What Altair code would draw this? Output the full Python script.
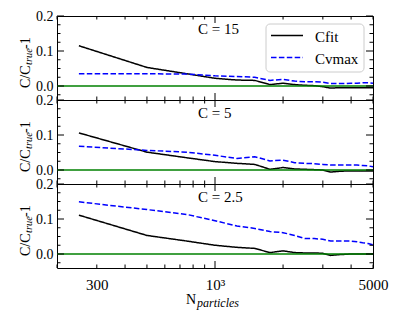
import altair as alt
import pandas as pd

# ---------------- data ----------------
N = [250, 500, 750, 1000, 1250, 1500, 1750, 2000, 2250, 2500,
     2750, 3000, 3250, 3500, 3750, 4000, 4250, 4500, 4750, 5000]

cfit_15 = [0.115, 0.053, 0.035, 0.022, 0.017, 0.016, 0.004, 0.008, 0.004, 0.002,
           0.001, -0.002, -0.006, -0.005, -0.005, -0.005, -0.005, -0.005, -0.005, -0.005]
cvmax_15 = [0.035, 0.035, 0.034, 0.029, 0.027, 0.025, 0.016, 0.019, 0.014, 0.012,
            0.012, 0.011, 0.007, 0.007, 0.007, 0.008, 0.008, 0.009, 0.009, 0.008]

cfit_5 = [0.106, 0.051, 0.035, 0.024, 0.019, 0.016, 0.002, 0.007, 0.003, 0.002,
          0.001, 0.000, -0.006, -0.004, -0.003, -0.003, -0.003, -0.003, -0.003, -0.003]
cvmax_5 = [0.068, 0.056, 0.051, 0.042, 0.033, 0.038, 0.026, 0.028, 0.021, 0.019,
           0.018, 0.016, 0.014, 0.014, 0.014, 0.014, 0.014, 0.013, 0.012, 0.009]

cfit_25 = [0.111, 0.053, 0.037, 0.025, 0.019, 0.016, 0.004, 0.009, 0.004, 0.003,
           0.003, 0.002, -0.004, -0.002, -0.001, 0.000, 0.000, 0.000, 0.000, 0.000]
cvmax_25 = [0.149, 0.127, 0.113, 0.095, 0.080, 0.073, 0.064, 0.061, 0.053, 0.044,
            0.044, 0.042, 0.037, 0.037, 0.037, 0.037, 0.035, 0.032, 0.030, 0.026]

panel_titles = ["C = 15", "C = 5", "C = 2.5"]
series_names = ["Cfit", "Cvmax"]

x_major_ticks = [1000]
x_minor_ticks = [200, 300, 400, 500, 600, 700, 800, 900, 2000, 3000, 4000, 5000]
x_tick_labels = [300, 1000, 5000]
y_major_ticks = [0.0, 0.1, 0.2]
y_minor_ticks = [-0.025, 0.025, 0.05, 0.075, 0.125, 0.15, 0.175]

# ---------------- layout / style ----------------
W, H = 316, 84
FONT = "Liberation Serif"
xscale = alt.Scale(type="log", domain=[200, 5000], nice=False)
yscale = alt.Scale(domain=[-0.04, 0.2], nice=False, zero=False)
color_scale = alt.Scale(domain=series_names, range=["black", "#0000ff"])
dash_scale = alt.Scale(domain=series_names, range=[[1, 0], [5.5, 2.4]])


def tick_layers(xaxis, yaxis):
    layers = []
    for vals, ln in ((y_major_ticks, 7), (y_minor_ticks, 3.5)):
        d = pd.DataFrame({"v": vals})
        layers.append(alt.Chart(d).mark_rule(color="black", strokeWidth=1).encode(
            y=alt.Y("v:Q", scale=yscale, axis=yaxis), x=alt.value(0), x2=alt.value(ln)))
        layers.append(alt.Chart(d).mark_rule(color="black", strokeWidth=1).encode(
            y=alt.Y("v:Q", scale=yscale, axis=yaxis), x=alt.value(W), x2=alt.value(W - ln)))
    for vals, ln in ((x_major_ticks, 7), (x_minor_ticks, 3.5)):
        d = pd.DataFrame({"v": vals})
        layers.append(alt.Chart(d).mark_rule(color="black", strokeWidth=1).encode(
            x=alt.X("v:Q", scale=xscale, axis=xaxis), y=alt.value(0), y2=alt.value(ln)))
        layers.append(alt.Chart(d).mark_rule(color="black", strokeWidth=1).encode(
            x=alt.X("v:Q", scale=xscale, axis=xaxis), y=alt.value(H), y2=alt.value(H - ln)))
    return layers


def text_layer(txt, x, y, size, italic=False, angle=0, align="left"):
    kw = dict(align=align, baseline="alphabetic", font=FONT, fontSize=size, color="black")
    if italic:
        kw["fontStyle"] = "italic"
    if angle:
        kw["angle"] = angle
    return alt.Chart(pd.DataFrame({"t": [txt]})).mark_text(**kw).encode(
        x=alt.value(x), y=alt.value(y), text="t:N")


def legend_layers():
    # framed legend box in the upper right of the top panel
    layers = [alt.Chart(pd.DataFrame({"s": ["box"]})).mark_rect(
        fill="white", stroke="#cccccc", strokeWidth=1, cornerRadius=4).encode(
        x=alt.value(209), x2=alt.value(307), y=alt.value(8), y2=alt.value(56))]
    for i, s in enumerate(series_names):
        ys = 19.5 + 22 * i
        d = pd.DataFrame({"series": [s]})
        layers.append(alt.Chart(d).mark_rule(strokeWidth=1.5).encode(
            x=alt.value(214), x2=alt.value(246), y=alt.value(ys),
            color=alt.Color("series:N", scale=color_scale, legend=None),
            strokeDash=alt.StrokeDash("series:N", scale=dash_scale, legend=None)))
        layers.append(alt.Chart(d).mark_text(
            align="left", baseline="middle", font=FONT, fontSize=15, color="black").encode(
            x=alt.value(258), y=alt.value(ys + 1), text="series:N"))
    return layers


def panel(title, fit, vmax, bottom, show_legend):
    df = pd.DataFrame({
        "N": N + N,
        "value": fit + vmax,
        "series": ["Cfit"] * len(N) + ["Cvmax"] * len(N),
    })
    if bottom:
        xaxis = alt.Axis(values=x_tick_labels,
                         labelExpr="datum.value == 1000 ? '10³' : format(datum.value, 'd')",
                         ticks=False, domain=False, grid=False, labelPadding=9,
                         labelFlush=False, labelOverlap=False,
                         labelFont=FONT, labelFontSize=15, labelColor="black", title=None)
    else:
        xaxis = None
    yaxis = alt.Axis(values=y_major_ticks, format=".1f", ticks=False, domain=False, grid=False,
                     labelPadding=4, labelFont=FONT, labelFontSize=14, labelColor="black",
                     labelFlush=False, labelOverlap=False, title=None)

    zero = alt.Chart(pd.DataFrame({"v": [0.0]})).mark_rule(
        color="#008000", strokeWidth=1.5).encode(y=alt.Y("v:Q", scale=yscale, axis=yaxis))

    lines = alt.Chart(df).mark_line(strokeWidth=1.5).encode(
        x=alt.X("N:Q", scale=xscale, axis=xaxis),
        y=alt.Y("value:Q", scale=yscale, axis=yaxis),
        color=alt.Color("series:N", scale=color_scale, legend=None),
        strokeDash=alt.StrokeDash("series:N", scale=dash_scale, legend=None),
    )

    layers = [lines, zero] + tick_layers(xaxis, yaxis)
    layers.append(text_layer(title, 141, 18, 15))
    # y-axis title  C/C_true-1
    layers.append(text_layer("C/C", -27.5, 72, 14, angle=270))
    layers.append(text_layer("true", -25, 49, 10.5, italic=True, angle=270))
    layers.append(text_layer("-1", -27.5, 33, 14, angle=270))
    if bottom:
        layers.append(text_layer("N", 139, 120, 14, align="right"))
        layers.append(text_layer("particles", 140, 123, 12, italic=True))
    if show_legend:
        layers += legend_layers()
    return alt.layer(*layers).properties(width=W, height=H)


p1 = panel(panel_titles[0], cfit_15, cvmax_15, False, True)
p2 = panel(panel_titles[1], cfit_5, cvmax_5, False, False)
p3 = panel(panel_titles[2], cfit_25, cvmax_25, True, False)

chart = alt.vconcat(p1, p2, p3, spacing=0, bounds="flush").properties(
    padding={"left": 10, "top": 0, "right": 5, "bottom": 0},
    background="white",
).configure_view(stroke="black", strokeWidth=1)

chart.save("out.html", embed_options={"renderer": "svg", "actions": False})
